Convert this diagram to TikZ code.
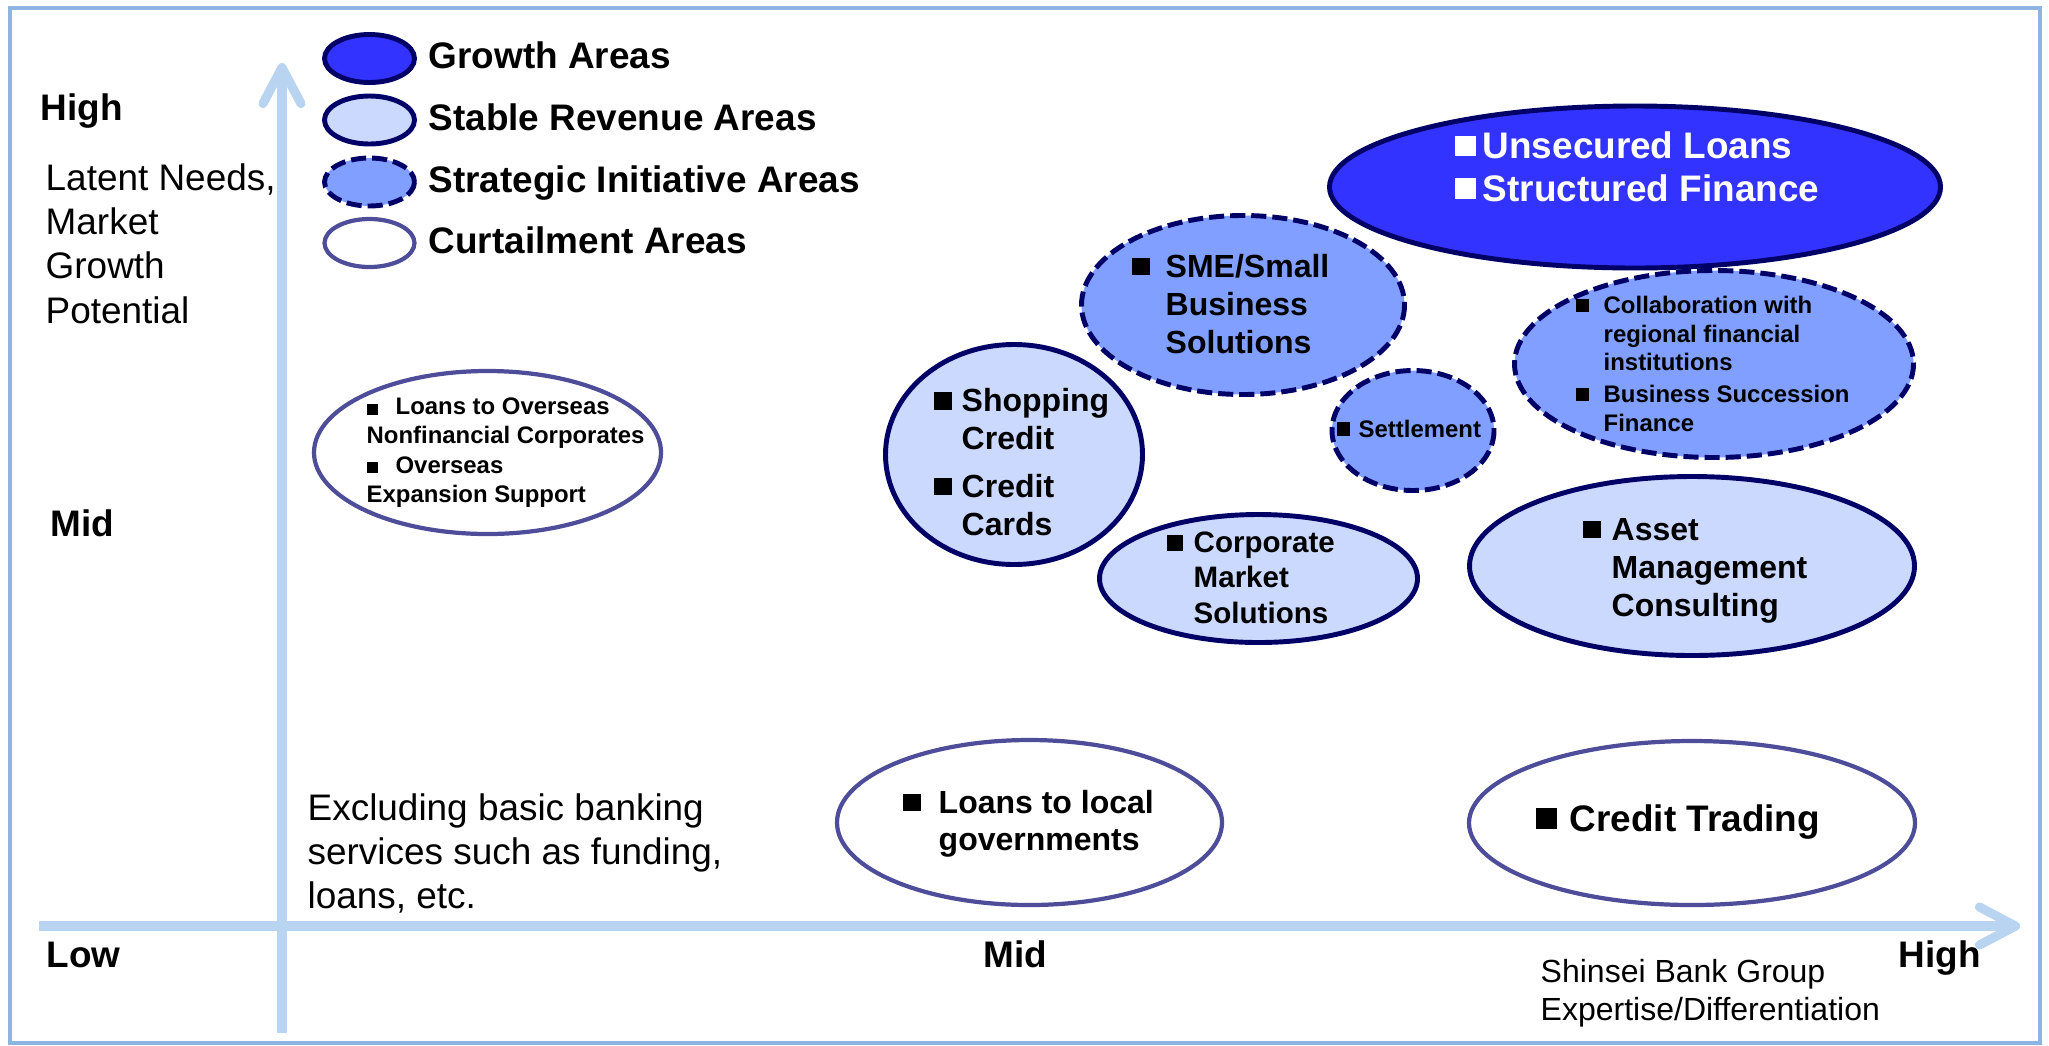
\documentclass[tikz,border=0pt]{standalone}
\usepackage{fontspec}
\setmainfont{Liberation Sans}
\usetikzlibrary{arrows.meta}

\definecolor{navy}{HTML}{000066}
\definecolor{growthblue}{HTML}{3333FF}
\definecolor{stableblue}{HTML}{CCD9FF}
\definecolor{stratblue}{HTML}{809FFF}
\definecolor{curtailrim}{HTML}{4D4D99}
\definecolor{frameblue}{HTML}{8DB4E2}
\definecolor{axisblue}{HTML}{B9D4F0}

% square bullet hanging left of the text
\newcommand{\blt}[1]{\llap{\raisebox{0.06em}{\rule{0.55em}{0.55em}}\hspace{#1}}}

\begin{document}
\begin{tikzpicture}[x=0.01cm, y=-0.01cm,
                    growth/.style={draw=navy, line width=1.4pt, fill=growthblue},
                    stable/.style={draw=navy, line width=1.4pt, fill=stableblue},
                    strategic/.style={draw=navy, line width=1.4pt, fill=stratblue,
                                      dash pattern=on 4.3pt off 1.7pt},
                    curtail/.style={draw=curtailrim, line width=1.2pt, fill=white},
                    txt/.style={anchor=base west, inner sep=0pt, align=left},
                    big/.style={txt, font=\bfseries\fontsize{10.5}{12.6}\selectfont},
                    plain/.style={txt, font=\fontsize{10.5}{12.6}\selectfont},
                    mid/.style={txt, font=\bfseries\fontsize{9.1}{10.8}\selectfont},
                    small/.style={txt, font=\bfseries\fontsize{6.8}{8.1}\selectfont},
                    axis/.style={draw=axisblue, line width=2.6pt,
                                 -{Straight Barb[round, length=3.6mm, width=3.8mm]}}
                    ]
    % multi-line texts sit on the baseline of their last line
    \useasboundingbox (0,0) rectangle (2049,1045);
    \draw[frameblue, line width=1.4pt] (10,8) rectangle (2040,1043);

    \coordinate (ybot) at (282,1033);
    \coordinate (ytop) at (282,63);
    \coordinate (xleft) at (39,926);
    \coordinate (xright) at (2020,926);
    \draw[axis] (ybot) -- (ytop);
    \draw[axis] (xleft) -- (xright);

    % legend
    \draw[growth]    (369.5,58.5) ellipse [x radius=45, y radius=24];
    \draw[stable]    (369.5,120)  ellipse [x radius=45, y radius=24];
    \draw[strategic] (369.5,182)  ellipse [x radius=45, y radius=24];
    \draw[curtail]   (369.5,243)  ellipse [x radius=45, y radius=24];
    \node[big] (lgrowth) at (428,68.5) {Growth Areas};
    \node[big] (lstable) at (428,130)  {Stable Revenue Areas};
    \node[big] (lstrat)  at (428,192)  {Strategic Initiative Areas};
    \node[big] (lcurt)   at (428,253)  {Curtailment Areas};

    % axis labels
    \node[big] (yhigh) at (40,120) {High};
    \node[plain] (ytitle) at (45,323) {Latent Needs,\\Market\\Growth\\Potential};
    \node[big] (ymid) at (50,536) {Mid};
    \node[big] (low) at (46,967) {Low};
    \node[big] (xmid) at (983,967) {Mid};
    \node[big] (xhigh) at (1898,967) {High};
    \node[txt, font=\fontsize{9.1}{10.8}\selectfont] (xtitle) at (1540,1020)
        {Shinsei Bank Group\\Expertise/Differentiation};
    \node[txt, font=\fontsize{10.5}{12.5}\selectfont] (note) at (307,908)
        {Excluding basic banking\\services such as funding,\\loans, etc.};

    % stable revenue areas
    \draw[stable] (1014,454.5) ellipse [x radius=128.5, y radius=110];
    \draw[stable] (1258.5,578.5) ellipse [x radius=159, y radius=64];
    \draw[stable] (1692,566) ellipse [x radius=222.5, y radius=89.5];
    \node[mid] (shop) at (961,535) {\blt{0.31em}Shopping\\Credit\\[2.6pt]\blt{0.31em}Credit\\Cards};
    \node[txt, font=\bfseries\fontsize{8.4}{10}\selectfont] (corp) at (1193,623)
        {\blt{0.37em}Corporate\\Market\\Solutions};
    \node[mid] (asset) at (1611,616) {\blt{0.34em}Asset\\Management\\Consulting};

    % strategic initiative areas
    \draw[strategic] (1243,305) ellipse [x radius=161.5, y radius=89.5];
    \draw[strategic] (1413,430.5) ellipse [x radius=81, y radius=60];
    \draw[strategic] (1714,364) ellipse [x radius=199.5, y radius=93.5];
    \node[mid] (sme) at (1165,353) {\blt{0.5em}SME/Small\\Business\\Solutions};
    \node[small] (settle) at (1358,437) {\blt{0.37em}Settlement};
    \node[small] (collab) at (1603,431)
        {\blt{0.62em}Collaboration with\\regional financial\\institutions\\[1pt]
         \blt{0.62em}Business Succession\\Finance};

    % growth areas
    \draw[growth] (1635,187) ellipse [x radius=305.5, y radius=81];
    \node[big, text=white, font=\bfseries\fontsize{10.5}{12.2}\selectfont] (unsec) at (1482,201)
        {\blt{0.19em}Unsecured Loans\\\blt{0.19em}Structured Finance};

    % curtailment areas
    \draw[curtail] (487.5,452.5) ellipse [x radius=173.5, y radius=81.5];
    \draw[curtail] (1029.5,822.5) ellipse [x radius=192.5, y radius=82.5];
    \draw[curtail] (1692,823) ellipse [x radius=223, y radius=82];
    \node[small, font=\bfseries\fontsize{6.8}{8.25}\selectfont] (overseas) at (366,502)
        {\rule{0.46em}{0.46em}\hspace{0.75em}Loans to Overseas\\Nonfinancial Corporates\\
         \rule{0.46em}{0.46em}\hspace{0.75em}Overseas\\Expansion Support};
    \node[mid, font=\bfseries\fontsize{9.1}{10.5}\selectfont] (local) at (938,850)
        {\blt{0.56em}Loans to local\\governments};
    \node[big] (trading) at (1569,831) {\blt{0.35em}Credit Trading};
\end{tikzpicture}
\end{document}
